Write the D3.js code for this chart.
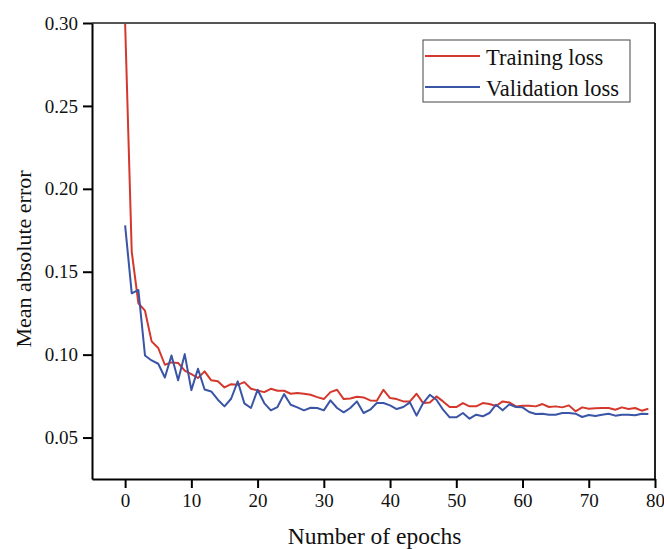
<!DOCTYPE html>
<html>
<head>
<meta charset="utf-8">
<script src="https://cdn.jsdelivr.net/npm/d3@7"></script>
<style>
  body { margin: 0; background: #fff; }
  svg { display: block; font-family: "Liberation Serif", "Times New Roman", Times, serif; }
</style>
</head>
<body>
<div class="loss_chart"></div>
<script>
// values, one per epoch (0..79)
var epochs = d3.range(0, 80);
var trainLoss = [0.300, 0.162, 0.131, 0.1265, 0.108, 0.104, 0.0939, 0.0953, 0.095, 0.0903,
  0.0883, 0.0859, 0.0899, 0.0845, 0.0839, 0.0802, 0.0822, 0.0818, 0.0834, 0.0794,
  0.0784, 0.0774, 0.0794, 0.0782, 0.0782, 0.0764, 0.0768, 0.0764, 0.0758, 0.0744,
  0.0732, 0.0774, 0.0788, 0.0732, 0.0736, 0.0746, 0.0742, 0.0724, 0.0722, 0.0788,
  0.0738, 0.0732, 0.0718, 0.0718, 0.0764, 0.0708, 0.0712, 0.0748, 0.0718, 0.0684,
  0.0684, 0.0708, 0.0688, 0.0688, 0.0708, 0.0702, 0.0690, 0.0718, 0.0712, 0.0688,
  0.0692, 0.0692, 0.0688, 0.0702, 0.0684, 0.0688, 0.0682, 0.0694, 0.0658, 0.0682,
  0.0674, 0.0676, 0.0678, 0.0678, 0.0668, 0.0682, 0.0672, 0.0678, 0.0662, 0.0674];
var valLoss = [0.178, 0.137, 0.139, 0.0995, 0.0965, 0.0945, 0.0862, 0.0995, 0.0845, 0.1003,
  0.0786, 0.0915, 0.079, 0.0778, 0.0728, 0.0688, 0.0734, 0.0839, 0.0706, 0.0678,
  0.0788, 0.0708, 0.0664, 0.0684, 0.0762, 0.0698, 0.0682, 0.0664, 0.068, 0.0678,
  0.0664, 0.0724, 0.0678, 0.0652, 0.0678, 0.0718, 0.0648, 0.0668, 0.0708, 0.0708,
  0.0694, 0.0672, 0.0684, 0.0712, 0.0632, 0.0708, 0.0758, 0.0728, 0.0668, 0.0622,
  0.0622, 0.0648, 0.0614, 0.0638, 0.0628, 0.0648, 0.0698, 0.0664, 0.0700, 0.0684,
  0.0682, 0.0654, 0.0642, 0.0644, 0.0638, 0.0638, 0.0648, 0.0648, 0.0644, 0.0624,
  0.0636, 0.063, 0.0638, 0.0644, 0.0632, 0.0638, 0.0638, 0.0634, 0.0644, 0.0642];
var xTicks = [0, 10, 20, 30, 40, 50, 60, 70, 80];
var yTicks = [0.05, 0.10, 0.15, 0.20, 0.25, 0.30];
var seriesNames = ["Training loss", "Validation loss"];
var seriesColors = ["#d4372c", "#3a54a6"];

var margin = {top: 23, right: 9, bottom: 70, left: 92},
    width = 664 - margin.left - margin.right,
    height = 549 - margin.top - margin.bottom;

var x = d3.scaleLinear().domain([-5, 80]).range([0, width]);
var y = d3.scaleLinear().domain([0.025, 0.30]).range([height, 0]);

var svg = d3.select(".loss_chart")
    .append("svg")
    .attr("width", 664)
    .attr("height", 549)
    .append("g")
    .attr("transform", "translate(" + margin.left + "," + margin.top + ")");

svg.append("clipPath").attr("id", "clip")
    .append("rect").attr("width", width).attr("height", height);

var line = d3.line()
    .x(function(d) { return x(d[0]); })
    .y(function(d) { return y(d[1]); });

[trainLoss, valLoss].forEach(function(vals, i) {
    svg.append("path")
        .datum(epochs.map(function(e) { return [e, vals[e]]; }))
        .attr("clip-path", "url(#clip)")
        .attr("fill", "none")
        .attr("stroke", seriesColors[i])
        .attr("stroke-width", 2)
        .attr("stroke-linejoin", "round")
        .attr("d", line);
});

// frame
svg.append("line").attr("x1", 0).attr("x2", width).attr("y1", 0).attr("y2", 0)
    .attr("stroke", "#555").attr("stroke-width", 2);
svg.append("line").attr("x1", width).attr("x2", width).attr("y1", 0).attr("y2", height)
    .attr("stroke", "#222").attr("stroke-width", 2);

var xAxis = d3.axisBottom(x).tickValues(xTicks).tickSize(9).tickSizeOuter(0).tickPadding(6);
var yAxis = d3.axisLeft(y).tickValues(yTicks).tickSize(9).tickSizeOuter(0).tickPadding(5)
    .tickFormat(d3.format(".2f"));

var gx = svg.append("g")
    .attr("transform", "translate(0," + height + ")")
    .call(xAxis);
var gy = svg.append("g").call(yAxis);

[gx, gy].forEach(function(g) {
    g.attr("font-family", null);
    g.selectAll(".domain").attr("stroke", "#000").attr("stroke-width", 2);
    g.selectAll(".tick line").attr("stroke", "#000").attr("stroke-width", 2);
    g.selectAll("text").attr("fill", "#111")
        .style("font-family", "'Liberation Serif', 'Times New Roman', serif")
        .style("font-size", "19px");
});

svg.append("text")
    .attr("x", width / 2 + 1)
    .attr("y", height + 65)
    .attr("text-anchor", "middle")
    .style("font-size", "23.5px")
    .attr("fill", "#111")
    .text("Number of epochs");

svg.append("text")
    .attr("transform", "rotate(-90)")
    .attr("x", -(259 - margin.top))
    .attr("y", -61)
    .attr("text-anchor", "middle")
    .style("font-size", "22px")
    .attr("fill", "#111")
    .text("Mean absolute error");

// legend
var leg = svg.append("g").attr("transform", "translate(" + (423 - margin.left) + "," + (40 - margin.top) + ")");
leg.append("rect").attr("width", 207).attr("height", 62)
    .attr("fill", "#fff").attr("stroke", "#444").attr("stroke-width", 1);
seriesNames.forEach(function(n, i) {
    var row = leg.append("g").attr("transform", "translate(0," + (16 + i * 31) + ")");
    row.append("line").attr("x1", 2).attr("x2", 57).attr("y1", 0).attr("y2", 0)
        .attr("stroke", seriesColors[i]).attr("stroke-width", 2);
    row.append("text").attr("x", 63).attr("y", 9)
        .style("font-size", "22.5px").attr("fill", "#111").text(n);
});
</script>
</body>
</html>
